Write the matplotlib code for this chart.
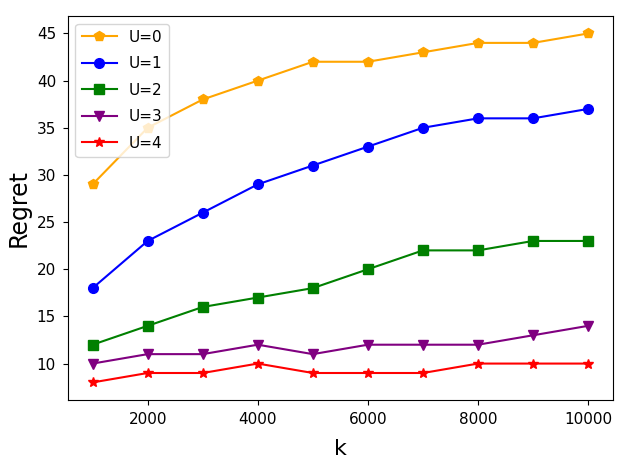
import matplotlib
matplotlib.use('Agg')
import matplotlib.pyplot as plt

k = [1000, 2000, 3000, 4000, 5000, 6000, 7000, 8000, 9000, 10000]
u0 = [29, 35, 38, 40, 42, 42, 43, 44, 44, 45]
u1 = [18, 23, 26, 29, 31, 33, 35, 36, 36, 37]
u2 = [12, 14, 16, 17, 18, 20, 22, 22, 23, 23]
u3 = [10, 11, 11, 12, 11, 12, 12, 12, 13, 14]
u4 = [8, 9, 9, 10, 9, 9, 9, 10, 10, 10]

labels = ['U=0', 'U=1', 'U=2', 'U=3', 'U=4']
colors = ['orange', 'blue', 'green', 'purple', 'red']
markers = ['p', 'o', 's', 'v', '*']

fig = plt.figure(figsize=(6.28, 4.71), dpi=100)
ax = fig.add_axes([0.108, 0.151, 0.868, 0.815])

for ys, lab, c, m in zip([u0, u1, u2, u3, u4], labels, colors, markers):
    ax.plot(k, ys, color=c, marker=m, markersize=7, linewidth=1.5, label=lab)

ax.set_xlabel('k', fontsize=16, labelpad=9)
ax.set_ylabel('Regret', fontsize=17, labelpad=4)
ax.tick_params(labelsize=11, pad=5)
ax.legend(loc='upper left', fontsize=11, labelspacing=0.75, handlelength=2.3)

fig.savefig('out.png', dpi=100)
